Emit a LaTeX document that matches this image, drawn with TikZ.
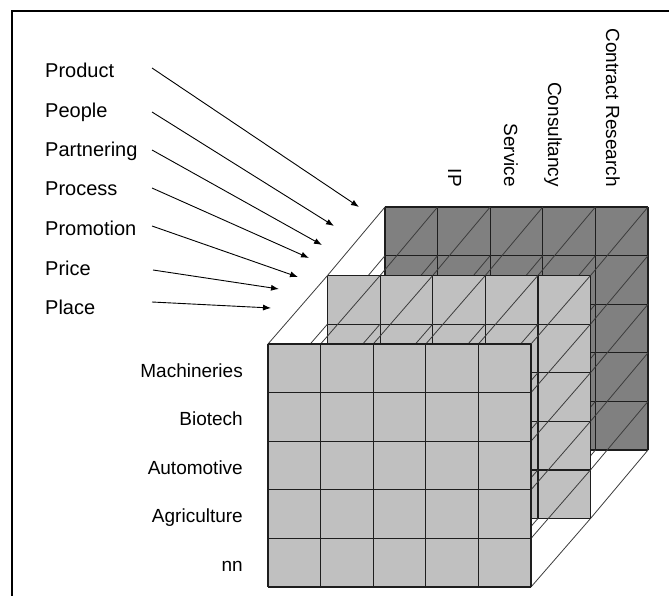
\documentclass[tikz,border=0pt]{standalone}
\usepackage{fontspec}
\setmainfont{Liberation Sans}
\usetikzlibrary{arrows.meta}

\definecolor{backfill}{HTML}{808080}
\definecolor{facefill}{HTML}{C0C0C0}
\definecolor{gridink}{HTML}{1E1E1E}
\definecolor{depthink}{HTML}{3C3C3C}

\def\cellw{52.6}
\def\cellh{48.6}

% one 5x5 layer of cells, top-left corner at (#1,#2), filled with #3
\newcommand\celllayer[3]{%
  \fill[#3] (#1,#2) rectangle ++(5*\cellw,5*\cellh);
  \foreach \i in {0,...,5}
    \draw[gridln] ({#1+\i*\cellw},#2) -- ++(0,5*\cellh);
  \foreach \j in {0,...,5}
    \draw[gridln] (#1,{#2+\j*\cellh}) -- ++(5*\cellw,0);
}
% depth edges joining the grid points of two layers
\newcommand\depthedges[4]{%
  \foreach \i in {0,...,5}
    \foreach \j in {0,...,5}
      \draw[depthln] ({#1+\i*\cellw},{#2+\j*\cellh}) -- ({#3+\i*\cellw},{#4+\j*\cellh});
}

\begin{document}
\begin{tikzpicture}[x=1pt,y=-1pt,
  gridln/.style={draw=gridink,line width=1.2pt},
  depthln/.style={draw=depthink,line width=0.8pt},
  lbl/.style={inner sep=0pt,font=\fontsize{19}{22}\selectfont},
  mixlbl/.style={lbl,anchor=base west,font=\fontsize{20}{23}\selectfont},
  rowlbl/.style={lbl,anchor=base east},
  collbl/.style={lbl,anchor=base east,rotate=-90},
  pointer/.style={draw=black,line width=0.9pt,-{Latex[length=8pt,width=6pt]}}]
\useasboundingbox (0,0) rectangle (669,596);

% frame
\draw[line width=2pt] (12,596) -- (12,11.5) -- (669,11.5);

% back layer, depth edges, middle layer, depth edges, front layer
\celllayer{385}{207}{backfill}
\depthedges{385}{207}{327.5}{275.5}
\celllayer{327.5}{275.5}{facefill}
\depthedges{327.5}{275.5}{268}{344}
\celllayer{268}{344}{facefill}

% column headings
\node[collbl] (ip)   at (448,187) {IP};
\node[collbl] (serv) at (504,187) {Service};
\node[collbl] (cons) at (548,187) {Consultancy};
\node[collbl] (cres) at (606,187) {Contract Research};

% row headings
\node[rowlbl] (mach) at (243,377) {Machineries};
\node[rowlbl] (bio)  at (243,425.5) {Biotech};
\node[rowlbl] (auto) at (243,474) {Automotive};
\node[rowlbl] (agri) at (243,522.5) {Agriculture};
\node[rowlbl] (nn)   at (243,571) {nn};

% marketing mix labels
\node[mixlbl] (prod) at (45,78) {Product};
\node[mixlbl] (peop) at (45,118) {People};
\node[mixlbl] (part) at (45,157) {Partnering};
\node[mixlbl] (proc) at (45,196) {Process};
\node[mixlbl] (prom) at (45,236) {Promotion};
\node[mixlbl] (pric) at (45,275) {Price};
\node[mixlbl] (plac) at (45,314) {Place};

% arrow ends
\coordinate (prod-s) at (152,68);  \coordinate (prod-e) at (359,207);
\coordinate (peop-s) at (152,112); \coordinate (peop-e) at (334,226);
\coordinate (part-s) at (152,150); \coordinate (part-e) at (322,245);
\coordinate (proc-s) at (152,188); \coordinate (proc-e) at (309,258);
\coordinate (prom-s) at (152,226); \coordinate (prom-e) at (298,277);
\coordinate (pric-s) at (153,270); \coordinate (pric-e) at (279,289);
\coordinate (plac-s) at (152,302); \coordinate (plac-e) at (271,308);

\foreach \k in {prod,peop,part,proc,prom,pric,plac}
  \draw[pointer] (\k-s) -- (\k-e);
\end{tikzpicture}
\end{document}
